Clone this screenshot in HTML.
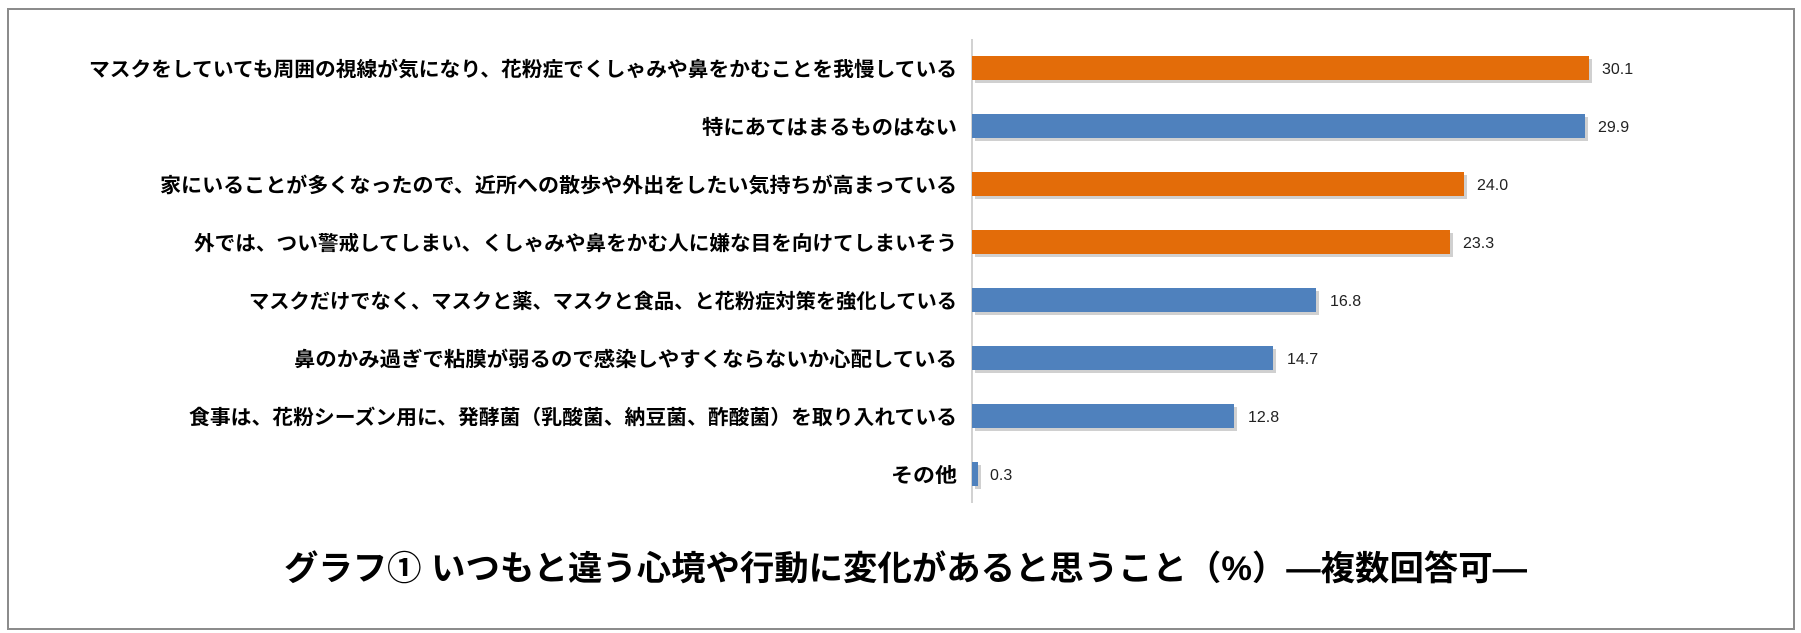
<!DOCTYPE html>
<html><head><meta charset="utf-8"><style>
html,body{margin:0;padding:0;background:#fff;}
svg{display:block;}
</style></head><body>
<svg width="1801" height="633" xmlns="http://www.w3.org/2000/svg">
<rect x="8" y="9" width="1786" height="620" fill="#fff" stroke="#8c8c8c" stroke-width="2"/>
<line x1="972" y1="39" x2="972" y2="503" stroke="#a6a6a6" stroke-width="1"/>
<g font-family="'Liberation Sans','Noto Sans CJK JP',sans-serif" font-weight="bold" font-size="20" fill="#000" text-anchor="end">
<text x="957" y="76" textLength="868" lengthAdjust="spacingAndGlyphs">マスクをしていても周囲の視線が気になり、花粉症でくしゃみや鼻をかむことを我慢している</text>
<text x="957" y="134" textLength="255" lengthAdjust="spacingAndGlyphs">特にあてはまるものはない</text>
<text x="957" y="192" textLength="797" lengthAdjust="spacingAndGlyphs">家にいることが多くなったので、近所への散歩や外出をしたい気持ちが高まっている</text>
<text x="957" y="250" textLength="763" lengthAdjust="spacingAndGlyphs">外では、つい警戒してしまい、くしゃみや鼻をかむ人に嫌な目を向けてしまいそう</text>
<text x="957" y="308" textLength="708" lengthAdjust="spacingAndGlyphs">マスクだけでなく、マスクと薬、マスクと食品、と花粉症対策を強化している</text>
<text x="957" y="366" textLength="663" lengthAdjust="spacingAndGlyphs">鼻のかみ過ぎで粘膜が弱るので感染しやすくならないか心配している</text>
<text x="957" y="424" textLength="768" lengthAdjust="spacingAndGlyphs">食事は、花粉シーズン用に、発酵菌（乳酸菌、納豆菌、酢酸菌）を取り入れている</text>
<text x="957" y="482" textLength="66" lengthAdjust="spacingAndGlyphs">その他</text>
</g>
<g>
<rect x="975" y="59" width="617" height="24" fill="#d0d0d0"/>
<rect x="972" y="56" width="617" height="24" fill="#e36c09"/>
<rect x="975" y="117" width="613" height="24" fill="#d0d0d0"/>
<rect x="972" y="114" width="613" height="24" fill="#4f81bd"/>
<rect x="975" y="175" width="492" height="24" fill="#d0d0d0"/>
<rect x="972" y="172" width="492" height="24" fill="#e36c09"/>
<rect x="975" y="233" width="478" height="24" fill="#d0d0d0"/>
<rect x="972" y="230" width="478" height="24" fill="#e36c09"/>
<rect x="975" y="291" width="344" height="24" fill="#d0d0d0"/>
<rect x="972" y="288" width="344" height="24" fill="#4f81bd"/>
<rect x="975" y="349" width="301" height="24" fill="#d0d0d0"/>
<rect x="972" y="346" width="301" height="24" fill="#4f81bd"/>
<rect x="975" y="407" width="262" height="24" fill="#d0d0d0"/>
<rect x="972" y="404" width="262" height="24" fill="#4f81bd"/>
<rect x="975" y="465" width="6" height="24" fill="#d0d0d0"/>
<rect x="972" y="462" width="6" height="24" fill="#4f81bd"/>
</g>
<g font-family="'Liberation Sans',sans-serif" font-size="16" fill="#222">
<text x="1602" y="74">30.1</text>
<text x="1598" y="132">29.9</text>
<text x="1477" y="190">24.0</text>
<text x="1463" y="248">23.3</text>
<text x="1330" y="306">16.8</text>
<text x="1287" y="364">14.7</text>
<text x="1248" y="422">12.8</text>
<text x="990" y="480">0.3</text>
</g>
<text x="284" y="580" font-family="'Liberation Sans','Noto Sans CJK JP',sans-serif" font-weight="bold" font-size="34" textLength="1243" lengthAdjust="spacingAndGlyphs">グラフ①  いつもと違う心境や行動に変化があると思うこと（%）―複数回答可―</text>
</svg>
</body></html>
